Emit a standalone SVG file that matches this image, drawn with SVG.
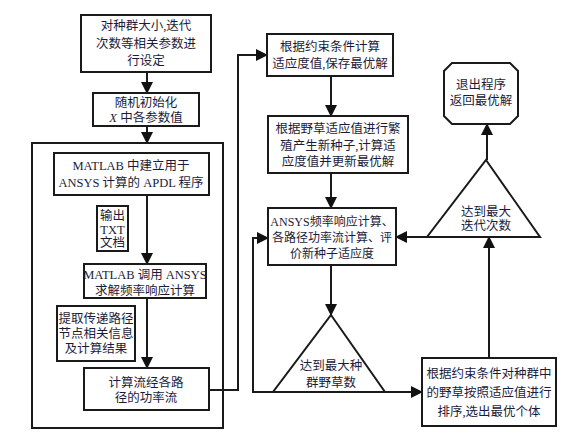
<svg xmlns="http://www.w3.org/2000/svg" width="584" height="442" viewBox="0 0 584 442">
<defs>
<marker id="ah" viewBox="0 0 12 12" refX="11" refY="6" markerWidth="12" markerHeight="12" markerUnits="userSpaceOnUse" orient="auto">
<path d="M0,0 L12,6 L0,12 z" fill="#111"/>
</marker>
<style>
.b{fill:#fff;stroke:#1a1a1a;stroke-width:2}
.c{fill:none;stroke:#1a1a1a;stroke-width:2}
text{font-family:"Liberation Serif","Noto Sans CJK SC",serif;font-size:12.5px;fill:#1c1c3a;text-anchor:middle}
.s{font-size:12px}
</style>
</defs>
<rect width="584" height="442" fill="#fff"/>
<g id="connectors">
<path class="c" d="M147,72 V93" marker-end="url(#ah)"/>
<path class="c" d="M147,126 V143" marker-end="url(#ah)"/>
<path class="c" d="M147,195 V264" marker-end="url(#ah)"/>
<path class="c" d="M147,298 V368" marker-end="url(#ah)"/>
<path class="c" d="M209,390 H238 V55 H267" marker-end="url(#ah)"/>
<path class="c" d="M331,76 V116" marker-end="url(#ah)"/>
<path class="c" d="M331,173 V208" marker-end="url(#ah)"/>
<path class="c" d="M331,265 V315" marker-end="url(#ah)"/>
<path class="c" d="M273,392 H253 V238 H268" marker-end="url(#ah)"/>
<path class="c" d="M385,392 H422" marker-end="url(#ah)"/>
<path class="c" d="M489,358 V237" marker-end="url(#ah)"/>
<path class="c" d="M427,237 H396" marker-end="url(#ah)"/>
<path class="c" d="M487,160 V124" marker-end="url(#ah)"/>
</g>
<g id="n1"><rect class="b" x="81" y="15" width="130" height="57"/>
<text x="146" y="29.5">对种群大小,迭代</text><text x="146" y="47.5">次数等相关参数进</text><text x="146" y="64.5">行设定</text></g>
<g id="n2"><rect class="b" x="93" y="93" width="106" height="33"/>
<text x="146" y="106.5">随机初始化</text><text x="146" y="121.5"><tspan font-style="italic">X</tspan> 中各参数值</text></g>
<g id="outer"><rect class="c" x="32" y="143" width="191" height="285"/></g>
<g id="n3"><rect class="b" x="54" y="153" width="155" height="42"/>
<text x="131" y="169.5">MATLAB 中建立用于</text><text x="131" y="186.5">ANSYS 计算的 APDL 程序</text></g>
<g id="n4"><rect class="b" x="97" y="206" width="31" height="45"/>
<text x="112.5" y="219.5">输出</text><text x="112.5" y="233.5">TXT</text><text x="112.5" y="246.5">文档</text></g>
<g id="n5"><rect class="b" x="84" y="264" width="122" height="34"/>
<text x="145" y="278.5">MATLAB 调用 ANSYS</text><text x="145" y="294.5">求解频率响应计算</text></g>
<g id="n6"><rect class="b" x="57" y="306" width="78" height="55"/>
<text x="96" y="322.5">提取传递路径</text><text x="96" y="337.5">节点相关信息</text><text x="96" y="352.5">及计算结果</text></g>
<g id="n7"><rect class="b" x="84" y="368" width="125" height="42"/>
<text x="146" y="386.5">计算流经各路</text><text x="146" y="401.5">径的功率流</text></g>
<g id="n8"><rect class="b" x="267" y="34" width="126" height="42"/>
<text x="330" y="50.5">根据约束条件计算</text><text x="330" y="67.5">适应度值,保存最优解</text></g>
<g id="n9"><rect class="b" x="268" y="116" width="140" height="57"/>
<text x="338" y="132.5">根据野草适应值进行繁</text><text x="338" y="149.5">殖产生新种子,计算适</text><text x="338" y="165.5">应度值并更新最优解</text></g>
<g id="n10"><rect class="b" x="268" y="208" width="128" height="57"/>
<text class="s" x="332" y="225.5">ANSYS频率响应计算、</text><text class="s" x="332" y="241.5">各路径功率流计算、评</text><text class="s" x="332" y="257.5">价新种子适应度</text></g>
<g id="n11"><path class="b" d="M331,315 L385,392 L273,392 Z"/>
<text x="331" y="369.5">达到最大种</text><text x="331" y="386.5">群野草数</text></g>
<g id="n12"><rect class="b" x="422" y="358" width="134" height="68"/>
<text x="489" y="377.5">根据约束条件对种群中</text><text x="489" y="396.5">的野草按照适应值进行</text><text x="489" y="415.5">排序,选出最优个体</text></g>
<g id="n13"><path class="b" d="M486,160 L540,237 L427,237 Z"/>
<text x="486" y="215.5">达到最大</text><text x="486" y="229.5">迭代次数</text></g>
<g id="n14"><path class="b" d="M452,63 H510 L518,71 V116 L510,124 H452 L444,116 V71 Z"/>
<text x="481" y="88.5">退出程序</text><text x="481" y="104.5">返回最优解</text></g>
</svg>
